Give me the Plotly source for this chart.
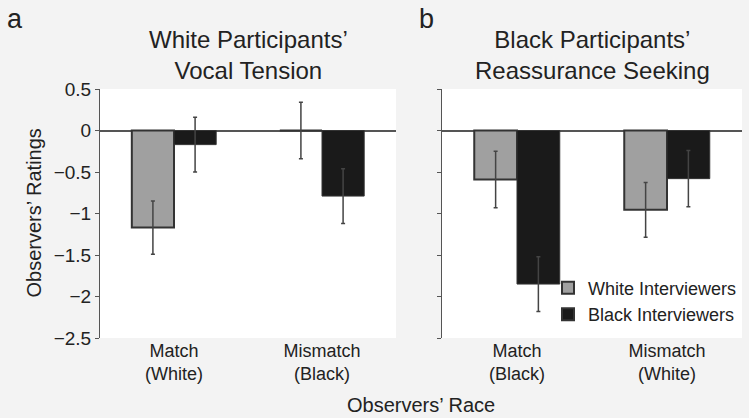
import plotly.graph_objects as go

cats_a = ["Match<br>(White)", "Mismatch<br>(Black)"]
cats_b = ["Match<br>(Black)", "Mismatch<br>(White)"]
a_white = [-1.17, 0.0]
a_white_err = [0.32, 0.34]
a_black = [-0.17, -0.79]
a_black_err = [0.33, 0.33]
b_white = [-0.59, -0.955]
b_white_err = [0.34, 0.33]
b_black = [-1.85, -0.58]
b_black_err = [0.33, 0.34]
y_ticks = [0.5, 0, -0.5, -1, -1.5, -2, -2.5]
y_ticktext = ["0.5", "0", "\u22120.5", "\u22121", "\u22121.5", "\u22122", "\u22122.5"]

GRAY = "#a0a0a0"
BLACK = "#1a1a1a"
EDGE = "#333333"
BG = "#f3f3f3"
FONT = "Liberation Sans, Arial, sans-serif"

W, H = 749, 418
fig = go.Figure()

def err(vals):
    return dict(type="data", array=vals, visible=True, color="#444444", thickness=1.5, width=2)

fig.add_trace(go.Bar(x=cats_a, y=a_white, error_y=err(a_white_err), marker=dict(color=GRAY, line=dict(color=EDGE, width=2)),
                     name="White Interviewers", xaxis="x", yaxis="y", showlegend=True, legendgroup="w"))
fig.add_trace(go.Bar(x=cats_a, y=a_black, error_y=err(a_black_err), marker=dict(color=BLACK, line=dict(color=EDGE, width=1)),
                     name="Black Interviewers", xaxis="x", yaxis="y", showlegend=True, legendgroup="b"))
fig.add_trace(go.Bar(x=cats_b, y=b_white, error_y=err(b_white_err), marker=dict(color=GRAY, line=dict(color=EDGE, width=2)),
                     name="White Interviewers", xaxis="x2", yaxis="y2", showlegend=False, legendgroup="w"))
fig.add_trace(go.Bar(x=cats_b, y=b_black, error_y=err(b_black_err), marker=dict(color=BLACK, line=dict(color=EDGE, width=1)),
                     name="Black Interviewers", xaxis="x2", yaxis="y2", showlegend=False, legendgroup="b"))

yax = dict(range=[-2.5, 0.5], tickvals=y_ticks, ticktext=y_ticktext, showgrid=False, showline=True,
           linecolor="#555555", linewidth=1, ticks="outside", ticklen=4, tickcolor="#555555",
           zeroline=True, zerolinecolor="#555555", zerolinewidth=1.5, domain=[0, 1],
           tickfont=dict(size=19, color="#222222"))
xax = dict(type="category", range=[-0.5, 1.5], showgrid=False, showline=False, zeroline=False, ticks="",
           tickfont=dict(size=18, color="#222222"))
# small separator ticks on the zero line between the two groups
zero_pos = 2.5 / 3.0
sep = dict(type="linear", range=[-0.5, 1.5], tickvals=[0.5], ticks="outside", ticklen=3, tickwidth=1.5,
           tickcolor="#555555", showticklabels=False, showline=False, showgrid=False, zeroline=False,
           anchor="free", position=zero_pos, side="bottom")

fig.update_layout(
    width=W, height=H,
    margin=dict(l=0, r=0, t=89, b=80),
    paper_bgcolor=BG, plot_bgcolor="white",
    font=dict(family=FONT, color="#222222"),
    barmode="group", bargap=0.43, bargroupgap=0,
    xaxis=dict(xax, domain=[100 / W, 396 / W], anchor="y"),
    xaxis2=dict(xax, domain=[442 / W, 742 / W], anchor="y2"),
    xaxis3=dict(sep, domain=[100 / W, 396 / W], overlaying="x"),
    xaxis4=dict(sep, domain=[442 / W, 742 / W], overlaying="x2"),
    yaxis=dict(yax, anchor="x"),
    yaxis2=dict(yax, anchor="x2", showticklabels=False),
    legend=dict(x=548 / W, y=0.275, xanchor="left", yanchor="top", bgcolor="rgba(255,255,255,0)",
                font=dict(size=18, color="#222222"), tracegroupgap=0, itemsizing="constant"),
    annotations=[
        dict(text="White Participants\u2019<br>Vocal Tension", xref="x domain", yref="paper", x=0.5, y=1.012,
             xanchor="center", yanchor="bottom", showarrow=False, font=dict(size=24)),
        dict(text="Black Participants\u2019<br>Reassurance Seeking", xref="x2 domain", yref="paper", x=0.5, y=1.012,
             xanchor="center", yanchor="bottom", showarrow=False, font=dict(size=24)),
        dict(text="a", xref="paper", yref="paper", x=5 / W, y=1 + (89 - 2) / 249, xanchor="left", yanchor="top",
             showarrow=False, font=dict(size=27)),
        dict(text="b", xref="paper", yref="paper", x=417 / W, y=1 + (89 - 2) / 249, xanchor="left", yanchor="top",
             showarrow=False, font=dict(size=27)),
        dict(text="Observers\u2019 Ratings", xref="paper", yref="paper", x=33 / W, y=0.5, textangle=-90,
             xanchor="center", yanchor="middle", showarrow=False, font=dict(size=20)),
        dict(text="Observers\u2019 Race", xref="paper", yref="paper", x=421 / W, y=-(405 - 338) / 249,
             xanchor="center", yanchor="middle", showarrow=False, font=dict(size=20)),
    ],
)

fig.write_html("out.html", config={"displayModeBar": False},
               post_script="document.body.style.margin='0';document.body.style.background='%s';" % BG)
